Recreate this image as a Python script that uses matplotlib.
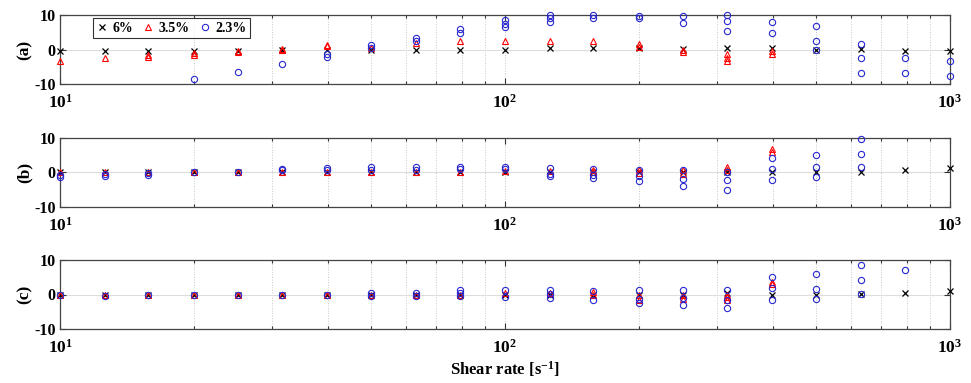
import matplotlib
matplotlib.use("Agg")
import matplotlib.pyplot as plt
from matplotlib.ticker import LogLocator, NullFormatter

plt.rcParams['font.family'] = ['Liberation Serif', 'DejaVu Serif']
plt.rcParams['font.weight'] = 'bold'
plt.rcParams['axes.unicode_minus'] = False
plt.rcParams['mathtext.fontset'] = 'custom'
plt.rcParams['mathtext.rm'] = 'Liberation Serif:bold'
plt.rcParams['mathtext.it'] = 'Liberation Serif:italic:bold'
plt.rcParams['mathtext.bf'] = 'Liberation Serif:bold'

shear = [10, 12.6, 15.8, 20, 25.1, 31.6, 39.8, 50.1, 63.1, 79.4, 100,
         126, 158, 200, 251, 316, 398, 501, 631, 794, 1000]

labels = ['6%', '3.5%', '2.3%']
panel_names = ['(a)', '(b)', '(c)']

# Panel (a)
a_6 = [[-0.3], [-0.3], [-0.3], [-0.3], [-0.3], [0], [0], [0], [0], [0], [0],
       [0.3], [0.3], [0.3], [0.2], [0.4], [0.4], [0], [0.2], [-0.3], [-0.3]]
a_35 = [[-3.4], [-2.5], [-1.6, -2.1], [-1.1, -1.5], [-0.3, -0.6], [0, 0.2],
        [0.9, 1.2], [0.4], [2.0], [2.4], [2.6], [2.4], [2.6], [1.7, 0.7],
        [-0.1, -0.8], [-1.3, -2.5, -3.2], [-0.5, -1.3], [], [], [], []]
a_23 = [[], [], [], [-8.5], [-6.4], [-4.2], [-1.3, -2.2], [1.2, 0.4],
        [3.3, 2.4], [5.9, 4.9], [8.5, 7.5, 6.6], [9.9, 9.0, 8.0], [9.9, 9.0],
        [9.8, 9.0], [9.8, 7.7], [9.9, 8.2, 5.4], [8.0, 4.8], [6.8, 2.6, 0],
        [1.7, -2.5, -6.7], [-2.5, -6.9], [-3.2, -7.6]]

# Panel (b)
b_6 = [[0], [0], [0], [0], [0], [0], [0], [0], [0], [0], [0], [0], [0], [0],
       [0], [0], [0], [0.2], [0.2], [0.7], [1.3]]
b_35 = [[0], [0.1], [0], [0], [0], [0], [0], [0.2], [0], [0.2], [0.3], [0.3],
        [0.5, 0], [0.5, -0.3], [0.5, -0.5], [1.6, 0.7], [6.6, 5.8],
        [], [], [], []]
b_23 = [[-1.4, -0.8], [-0.5, -1.2], [-0.2, -0.7], [0.2], [0.2], [1.0, 0.5],
        [1.2, 0.5], [1.4, 0.7], [1.4, 0.7], [1.6, 1.0], [1.5, 0.8],
        [1.3, -0.5, -1.0], [1.0, -0.8, -1.7], [0.5, -1.0, -2.5],
        [0.5, -1.9, -3.9], [0, -2.2, -5.1], [4.1, 1.0, -2.4],
        [5.1, 1.5, -1.4], [9.5, 5.3, 1.5], [], []]

# Panel (c)
c_6 = [[0], [0], [0], [0], [0], [0], [0], [0], [0], [0], [0], [0], [0], [0],
       [0], [0.3], [0], [0], [0.1], [0.5], [1.0]]
c_35 = [[0], [0], [0], [0], [0], [0], [0], [0], [0], [0], [0.3], [0.3],
        [0.8, -0.2], [-0.2, -1.6], [-0.2, -1.2], [-0.2, -0.7, -1.6],
        [3.7, 2.9], [], [], [], []]
c_23 = [[-0.2], [-0.3], [-0.1], [0], [-0.1], [-0.2], [-0.2], [0.5, -0.5],
        [0.4, -0.4], [1.2, 0.3, -0.5], [1.2, -0.7], [1.2, 0.1, -1.0],
        [1.0, -1.6], [1.2, -1.2, -2.4], [1.4, -0.9, -3.1], [1.3, -1.6, -3.8],
        [5.1, 1.9, -1.6], [5.8, 1.7, -1.2], [8.5, 4.3, 0.1], [7.1], []]

panels = [(a_6, a_35, a_23), (b_6, b_35, b_23), (c_6, c_35, c_23)]

def flatten(series):
    xs, ys = [], []
    for x, vals in zip(shear, series):
        for v in vals:
            xs.append(x)
            ys.append(v)
    return xs, ys

fig = plt.figure(figsize=(9.71, 3.83), dpi=100)
left, width = 60 / 971, 890 / 971
tops = [15, 137.7, 260]
h = 69

styles = [dict(marker='x', color='black', ms=3.8, mew=0.9, ls='none'),
          dict(marker='^', mfc='none', mec='red', ms=4.5, mew=0.8, ls='none'),
          dict(marker='o', mfc='none', mec='#2828d0', ms=4.5, mew=0.8, ls='none')]

for i, (series_set, name) in enumerate(zip(panels, panel_names)):
    ax = fig.add_axes([left, 1 - (tops[i] + h) / 383, width, h / 383])
    handles = []
    for s, st, lab in zip(series_set, styles, labels):
        xs, ys = flatten(s)
        hdl, = ax.plot(xs, ys, label=lab, clip_on=False, zorder=3, **st)
        handles.append(hdl)
    ax.set_xscale('log')
    ax.set_xlim(10, 1000)
    ax.set_ylim(-10, 10)
    ax.set_yticks([-10, 0, 10])
    ax.xaxis.set_major_locator(LogLocator(base=10, numticks=5))
    ax.xaxis.set_minor_locator(LogLocator(base=10, subs=range(2, 10), numticks=20))
    ax.xaxis.set_minor_formatter(NullFormatter())
    ax.tick_params(which='both', direction='in', top=True, right=True,
                   width=0.8, color='#333333')
    ax.tick_params(axis='y', labelsize=11.5, pad=3)
    ax.tick_params(axis='x', which='major', labelsize=12.5, pad=7)
    ax.tick_params(which='major', length=4)
    ax.tick_params(which='minor', length=2.5)
    ax.grid(True, axis='x', which='both', ls=':', color='#c8c8c8', lw=0.7)
    ax.grid(True, axis='y', which='major', ls='-', color='#dddddd', lw=0.8)
    ax.set_axisbelow(True)
    for sp in ax.spines.values():
        sp.set_color('#444444')
        sp.set_linewidth(0.9)
    ax.set_ylabel(name, fontsize=12.5, fontweight='bold', labelpad=1)
    if i == 0:
        leg = ax.legend(handles=handles, ncol=3, loc='upper left',
                        bbox_to_anchor=(0.037, 0.95),
                        frameon=True, fancybox=False, edgecolor='black',
                        handlelength=0.8, handletextpad=0.35, columnspacing=0.7,
                        borderpad=0.25, borderaxespad=0.0,
                        prop={'weight': 'bold', 'size': 10})
        leg.get_frame().set_linewidth(0.8)
    if i == 2:
        ax.set_xlabel('Shear rate [s$^{-1}$]', fontsize=12, fontweight='bold',
                      labelpad=2)

fig.savefig('out.png', dpi=100)
